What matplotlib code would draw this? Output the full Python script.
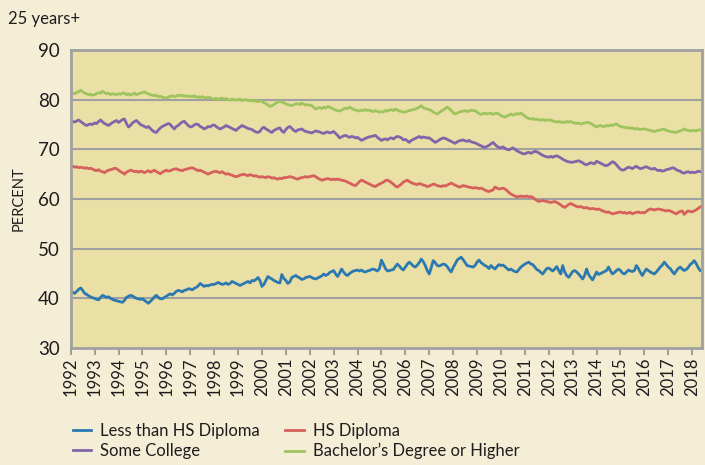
import numpy as np
import matplotlib.pyplot as plt

# monthly rates, Jan 1992 - May 2018 (one row per year)
less_hs = [
    41.5, 41.2, 41.0, 41.4, 41.8, 42.1, 41.6, 41.0, 40.8, 40.5, 40.3, 40.1,
    40.0, 39.8, 39.7, 40.2, 40.6, 40.4, 40.2, 40.3, 40.0, 39.8, 39.6, 39.55,
    39.4, 39.3, 39.2, 39.6, 40.2, 40.4, 40.6, 40.5, 40.2, 40.0, 39.9, 39.8,
    39.9, 39.6, 39.3, 39.0, 39.4, 39.8, 40.3, 40.6, 40.2, 39.9, 39.9, 40.2,
    40.4, 40.7, 40.9, 40.7, 41.0, 41.4, 41.6, 41.5, 41.3, 41.6, 41.7, 41.9,
    41.9, 41.7, 42.0, 42.2, 42.5, 43.0, 42.7, 42.4, 42.6, 42.5, 42.7, 42.8,
    42.8, 43.0, 43.2, 43.0, 42.8, 42.9, 43.1, 42.8, 43.0, 43.4, 43.2, 43.0,
    42.8, 42.6, 42.8, 43.0, 43.2, 43.4, 43.1, 43.6, 43.5, 43.8, 44.2, 43.6,
    42.4, 42.8, 43.6, 44.4, 44.1, 43.9, 43.6, 43.4, 43.2, 43.1, 44.8, 44.0,
    43.6, 43.0, 43.3, 44.2, 44.4, 44.6, 44.3, 44.1, 43.8, 43.9, 44.2, 44.3,
    44.4, 44.2, 44.0, 43.9, 44.1, 44.3, 44.5, 44.9, 44.6, 44.8, 45.2, 45.4,
    45.6, 44.9, 44.4, 45.1, 45.9, 45.3, 44.8, 44.6, 45.0, 45.3, 45.5, 45.6,
    45.7, 45.5, 45.7, 45.4, 45.3, 45.5, 45.6, 45.8, 45.9, 45.7, 45.5, 46.0,
    47.7, 46.9, 46.0, 45.5, 45.6, 45.7, 45.8, 46.4, 46.9, 46.5, 46.0, 45.7,
    46.3, 46.9, 47.3, 46.9, 46.5, 46.3, 46.7, 47.2, 47.9, 47.4, 46.6, 45.6,
    44.9, 46.2, 47.6, 47.2, 46.6, 46.5, 46.7, 46.9, 46.8, 46.4, 45.8, 45.3,
    46.2, 46.9, 47.7, 48.0, 48.3, 47.8, 47.2, 46.6, 46.5, 46.4, 46.3, 46.6,
    47.3, 47.7, 47.2, 46.9, 46.6, 46.4, 46.0, 46.6, 46.2, 45.9, 46.4, 46.8,
    46.6, 46.7, 46.4, 46.0, 45.7, 45.9, 45.6, 45.4, 45.3, 45.8, 46.3, 46.6,
    46.9, 47.1, 47.3, 46.9, 46.8, 46.3, 45.8, 45.6, 45.2, 44.9, 45.5, 46.0,
    46.1, 45.8, 45.5, 45.9, 46.4, 45.6, 44.9, 46.6, 45.3, 44.6, 44.25, 44.8,
    45.4, 45.6, 45.3, 44.9, 44.4, 43.9, 44.6, 45.9, 44.8, 44.2, 43.7, 44.5,
    45.3, 44.8, 45.0, 45.2, 45.4, 45.6, 46.3, 45.5, 44.9, 45.2, 45.6, 45.9,
    45.6, 45.1, 44.9, 45.3, 45.7, 45.5, 45.4, 45.6, 46.6, 46.0, 45.2, 44.6,
    45.3, 45.9, 45.6, 45.3, 45.1, 44.9, 45.3, 45.8, 46.3, 46.7, 47.3, 46.8,
    46.3, 46.0, 45.4, 44.9, 45.5, 46.0, 46.3, 45.9, 45.6, 45.8, 46.2, 46.8,
    47.1, 47.6, 47.0, 46.2, 45.6,
]

hs_diploma = [
    66.5, 66.6, 66.4, 66.5, 66.3, 66.4, 66.3, 66.2, 66.3, 66.1, 66.2, 66.0,
    65.8, 65.7, 65.9, 65.6, 65.5, 65.3, 65.6, 65.8, 65.9, 66.0, 66.2, 66.1,
    65.8, 65.5, 65.3, 65.0, 65.4, 65.6, 65.8, 65.7, 65.5, 65.6, 65.4, 65.6,
    65.5, 65.3, 65.5, 65.7, 65.4, 65.6, 65.8, 65.5, 65.3, 65.1, 65.4, 65.6,
    65.8, 65.6, 65.7, 65.9, 66.0, 66.1, 65.9, 65.8, 65.7, 65.9, 66.0, 66.1,
    66.2, 66.3, 66.1, 65.9, 65.7, 65.8, 65.6, 65.4, 65.2, 65.0, 65.2, 65.4,
    65.5, 65.6, 65.4, 65.3, 65.5, 65.2, 65.0, 65.1, 64.9, 64.8, 64.6, 64.5,
    64.6, 64.8, 64.9, 65.0, 64.8, 64.7, 64.9, 64.8, 64.6, 64.7, 64.5, 64.4,
    64.5, 64.4, 64.3, 64.5, 64.4, 64.2, 64.3, 64.1, 64.0, 64.2, 64.1, 64.3,
    64.3, 64.4, 64.5, 64.4, 64.3, 64.1, 64.0, 64.2, 64.3, 64.4, 64.5, 64.4,
    64.5, 64.6, 64.7, 64.5, 64.2, 64.0, 63.8, 63.9, 64.0, 64.1, 64.0, 63.9,
    64.0, 63.9, 64.0, 63.9, 63.8, 63.7, 63.6, 63.4, 63.2, 63.0, 62.8, 62.7,
    63.1, 63.5, 63.8, 63.6, 63.4, 63.2, 63.0, 62.8, 62.6, 62.5, 62.8, 63.0,
    63.2, 63.4, 63.7, 63.8, 63.6, 63.3, 63.0, 62.6, 62.4, 62.7, 63.0, 63.4,
    63.6, 63.8, 63.5, 63.3, 63.1, 63.0, 62.9, 63.1, 63.0, 62.8, 62.7, 62.5,
    62.6, 62.8, 63.0, 62.9, 62.7, 62.6, 62.5, 62.7, 62.6, 62.8, 63.0, 63.2,
    63.0, 62.8, 62.6, 62.4, 62.5, 62.7, 62.6, 62.5, 62.4, 62.3, 62.2, 62.3,
    62.2, 62.1, 62.2, 62.0, 61.8, 61.6, 61.5, 61.7, 61.8, 62.4, 62.2, 62.0,
    62.1, 62.2, 62.0, 61.7, 61.3, 61.0, 60.8, 60.6, 60.4, 60.5, 60.6, 60.5,
    60.5, 60.6, 60.4, 60.5, 60.3, 60.0, 59.7, 59.5, 59.6, 59.7, 59.6, 59.5,
    59.4, 59.3, 59.4, 59.5, 59.3, 59.1, 58.8, 58.5, 58.3, 58.6, 58.9, 59.1,
    58.9, 58.7, 58.5, 58.4, 58.5, 58.3, 58.2, 58.3, 58.1, 58.0, 58.1, 58.0,
    57.9, 58.0, 57.8, 57.6, 57.5, 57.3, 57.4, 57.2, 57.0, 57.1, 57.2, 57.3,
    57.4, 57.2, 57.3, 57.1, 57.2, 57.3, 57.0, 57.2, 57.3, 57.4, 57.2, 57.3,
    57.2, 57.5, 57.8, 58.0, 57.9, 57.8, 57.9, 58.0, 57.9, 57.8, 57.7, 57.6,
    57.7, 57.6, 57.4, 57.2, 57.0, 57.3, 57.5, 57.6, 56.9, 57.3, 57.6, 57.5,
    57.4, 57.6, 57.8, 58.1, 58.4,
]

some_college = [
    75.4, 75.6, 75.5, 75.7, 75.9, 75.6, 75.3, 75.0, 74.8, 75.0, 75.1, 75.0,
    75.3, 75.2, 75.6, 75.9, 75.5, 75.2, 75.0, 74.8, 75.1, 75.4, 75.6, 75.8,
    75.4, 75.7, 76.0, 76.1, 75.2, 74.5, 74.8, 75.3, 75.6, 75.8, 75.4, 75.0,
    74.8, 74.6, 74.4, 74.6, 74.2, 73.8, 73.5, 73.4, 73.9, 74.3, 74.6, 74.8,
    75.0, 75.2, 75.0, 74.5, 74.1, 74.6, 74.8, 75.2, 75.5, 75.65, 75.2, 74.8,
    74.5, 74.6, 74.9, 75.1, 75.0, 74.6, 74.4, 74.1, 74.3, 74.6, 74.5, 74.8,
    74.9, 74.6, 74.3, 74.1, 74.3, 74.5, 74.8, 74.6, 74.4, 74.2, 74.0, 73.8,
    74.2, 74.5, 74.8, 74.6, 74.4, 74.2, 74.1, 74.0, 73.7, 73.5, 73.4, 73.6,
    74.2, 74.45, 74.1, 73.9, 73.6, 73.4, 73.8, 74.0, 74.2, 74.3, 73.7, 73.4,
    74.0, 74.4, 74.6, 74.2, 73.8, 73.6, 73.9, 74.0, 74.1, 73.8, 73.6, 73.5,
    73.4, 73.3, 73.5, 73.7, 73.6, 73.5, 73.3, 73.2, 73.4, 73.5, 73.3, 73.4,
    73.6, 73.2, 72.8, 72.3, 72.5, 72.7, 72.8, 72.6, 72.4, 72.6, 72.5, 72.3,
    72.4, 72.1, 71.8, 72.0, 72.2, 72.4, 72.5, 72.6, 72.7, 72.8, 72.4, 72.1,
    71.8, 72.0, 72.1, 71.9, 72.2, 72.3, 72.1, 72.4, 72.6, 72.5, 72.3, 71.9,
    72.0, 71.7, 71.4, 71.8, 72.0, 72.2, 72.4, 72.6, 72.3, 72.5, 72.4, 72.3,
    72.3, 72.0, 71.7, 71.4, 71.6, 71.9, 72.1, 72.3, 72.2, 72.0, 71.8, 71.6,
    71.4, 71.2, 71.5, 71.7, 71.8, 71.9, 71.7, 71.6, 71.8, 71.5, 71.4, 71.3,
    71.1, 70.9, 70.7, 70.5, 70.4, 70.6, 70.8, 71.1, 71.4, 71.0, 70.6, 70.4,
    70.3, 70.5, 70.2, 70.0, 69.9, 70.1, 70.3, 70.0, 69.7, 69.5, 69.3, 69.1,
    69.1, 69.3, 69.4, 69.2, 69.4, 69.6, 69.5, 69.3, 69.0, 68.8, 68.6, 68.5,
    68.4, 68.6, 68.4, 68.6, 68.7, 68.5, 68.3, 68.0, 67.8, 67.6, 67.5, 67.4,
    67.4, 67.5, 67.6, 67.7, 67.5, 67.3, 67.0, 66.9, 67.1, 67.3, 67.2, 67.1,
    67.6, 67.4, 67.2, 67.0, 66.8, 66.7, 66.9, 67.2, 67.5, 67.3, 66.9, 66.4,
    66.0, 65.8, 65.9, 66.2, 66.4, 66.3, 66.1, 66.4, 66.6, 66.3, 66.1, 66.2,
    66.4, 66.5, 66.3, 66.1, 66.0, 66.2, 65.9, 65.7, 65.8, 65.6, 65.7, 65.9,
    66.0, 66.1, 66.3, 66.2, 65.9, 65.7, 65.6, 65.3, 65.2, 65.4, 65.5, 65.3,
    65.4, 65.3, 65.4, 65.6, 65.5,
]

bachelors = [
    81.1, 81.3, 81.2, 81.5, 81.6, 81.9, 81.6, 81.3, 81.2, 81.0, 81.1, 80.9,
    81.0, 81.2, 81.4, 81.3, 81.7, 81.4, 81.2, 81.3, 81.0, 81.2, 81.1, 81.0,
    81.2, 81.1, 81.3, 81.3, 81.0, 81.2, 80.9, 81.1, 81.3, 81.0, 81.2, 81.3,
    81.4, 81.6, 81.3, 81.2, 81.0, 80.9, 80.8, 80.9, 80.6, 80.7, 80.5, 80.4,
    80.3, 80.5, 80.7, 80.8, 80.6, 80.7, 80.9, 80.8, 80.9, 80.7, 80.8, 80.6,
    80.7, 80.6, 80.8, 80.5, 80.6, 80.4, 80.6, 80.5, 80.3, 80.5, 80.4, 80.2,
    80.1, 80.3, 80.0, 80.2, 80.3, 80.1, 80.2, 80.0, 79.9, 80.1, 79.95, 80.0,
    79.9, 80.1, 79.8, 79.95, 80.0, 79.8, 79.9, 79.7, 79.8, 79.7, 79.6, 79.8,
    79.6, 79.4, 79.2, 78.9, 78.6, 78.8, 79.0, 79.3, 79.5, 79.7, 79.5, 79.4,
    79.15, 79.0, 78.9, 78.8, 79.0, 79.1, 79.2, 79.0, 79.3, 79.1, 78.9, 79.0,
    78.9, 78.8, 78.5, 78.1, 78.3, 78.4, 78.2, 78.5, 78.3, 78.6, 78.5, 78.3,
    78.1, 77.9, 77.8, 77.7, 77.9, 78.1, 78.3, 78.2, 78.5, 78.3, 78.0, 77.9,
    77.8, 77.7, 77.9, 77.8, 78.0, 77.8, 77.9, 77.7, 77.6, 77.8, 77.6, 77.5,
    77.6, 77.5, 77.8, 77.7, 77.9, 78.0, 77.8, 78.1, 77.9, 77.7, 77.6, 77.5,
    77.5, 77.7, 77.8, 77.9, 78.0, 78.1, 78.3, 78.5, 78.8, 78.4, 78.2, 78.1,
    78.0, 77.8, 77.5, 77.3, 77.1, 77.4, 77.7, 77.9, 78.2, 78.5, 78.2, 77.8,
    77.4, 77.1, 77.3, 77.5, 77.6, 77.7, 77.8, 77.6, 77.7, 77.9, 77.8, 77.8,
    77.5, 77.2, 77.0, 77.2, 77.3, 77.1, 77.2, 77.3, 77.0, 77.2, 77.3, 77.1,
    76.8, 76.6, 76.5, 76.7, 76.9, 77.1, 76.9, 77.0, 77.2, 77.1, 77.3, 77.0,
    76.7, 76.4, 76.2, 76.1, 76.2, 76.0, 76.1, 75.9, 75.9, 76.0, 75.8, 75.9,
    75.9, 75.9, 75.7, 75.6, 75.5, 75.6, 75.45, 75.5, 75.4, 75.6, 75.5, 75.6,
    75.4, 75.3, 75.2, 75.3, 75.1, 75.2, 75.3, 75.4, 75.45, 75.2, 75.0, 74.7,
    74.5, 74.7, 74.8, 74.6, 74.6, 74.8, 74.7, 74.9, 74.8, 75.0, 75.1, 74.8,
    74.6, 74.5, 74.45, 74.3, 74.4, 74.2, 74.3, 74.1, 74.2, 74.1, 74.0, 74.1,
    74.1, 74.0, 73.9, 73.8, 73.7, 73.6, 73.7, 73.8, 73.9, 74.0, 74.1, 73.8,
    73.7, 73.6, 73.5, 73.5, 73.4, 73.6, 73.7, 73.9, 74.1, 73.9, 73.8, 73.7,
    73.8, 73.8, 73.7, 73.9, 73.9,
]

labels = ['Less than HS Diploma', 'Some College', 'HS Diploma', "Bachelor\u2019s Degree or Higher"]
colors = ['#2c79b1', '#8264a9', '#d6605b', '#9fc45e']
years = list(range(1992, 2019))

x = 1992 + np.arange(len(less_hs)) / 12.0

plt.rcParams['font.family'] = ['Lato', 'DejaVu Sans']
txt = '#1f1c1d'

fig = plt.figure(figsize=(7.05, 4.65), dpi=100, facecolor='#f5eed7')
ax = fig.add_axes([0.1003, 0.2516, 0.8954, 0.6409])
ax.set_facecolor('#eae0a5')

series = [less_hs, some_college, hs_diploma, bachelors]
for vals, lab, col in zip(series, labels, colors):
    ax.plot(x, vals, color=col, lw=2.0, label=lab, solid_joinstyle='round')

ax.set_xlim(1992, 2018.41)
ax.set_ylim(30, 90)
ax.set_yticks(range(30, 91, 10))
ax.set_xticks(years)
ax.set_xticklabels([str(y) for y in years], rotation=90, fontsize=12, color=txt)
ax.tick_params(axis='y', length=0, labelsize=13.5, labelcolor=txt, pad=8)
ax.tick_params(axis='x', length=5, width=1.5, color='#a0a0a0', pad=2)

for v in range(40, 90, 10):
    ax.axhline(v, color='#a0a0a0', lw=1.5, zorder=1)

for s in ax.spines.values():
    s.set_color('#a0a0a0')
    s.set_linewidth(2)

ax.set_ylabel('PERCENT', fontsize=10.5, color=txt, labelpad=9)

fig.text(0.011, 0.96, '25 years+', fontsize=12, color=txt, va='center')

leg = fig.legend(loc='upper left', bbox_to_anchor=(0.094, 0.105), ncol=2, frameon=False,
                 fontsize=12, handlelength=1.1, handletextpad=0.55, columnspacing=1.5,
                 labelspacing=0.25, borderaxespad=0)
for t in leg.get_texts():
    t.set_color(txt)

fig.savefig('out.png', dpi=100, facecolor=fig.get_facecolor())
